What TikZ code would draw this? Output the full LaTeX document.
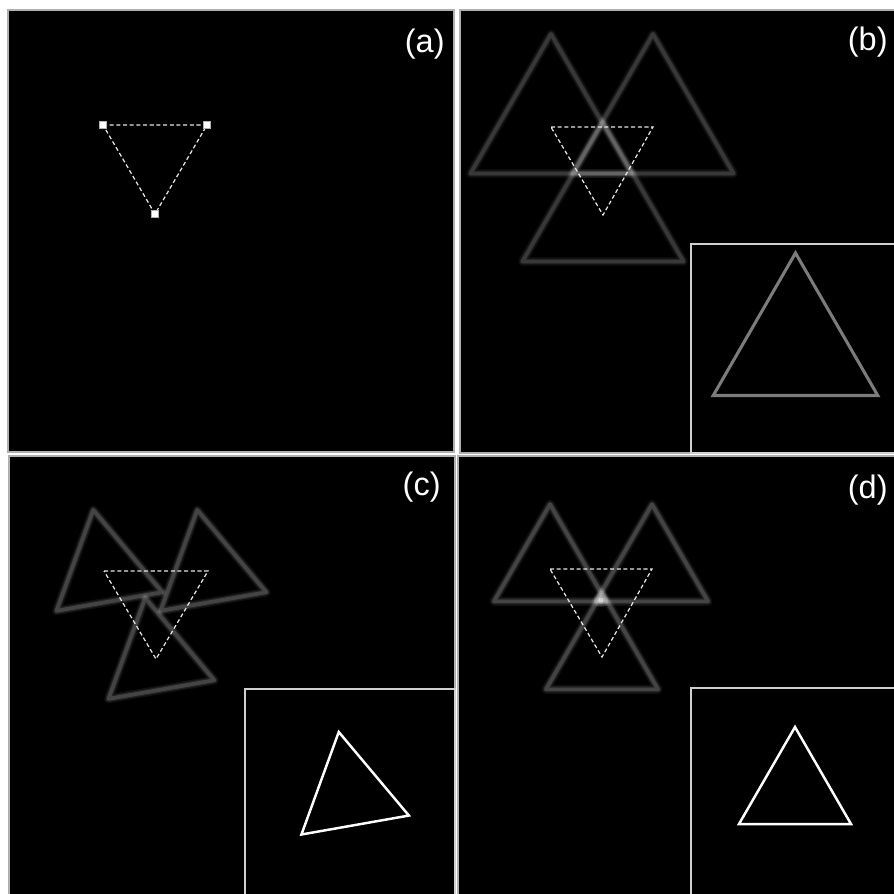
\documentclass[tikz,border=0pt]{standalone}
\usepackage{fontspec}
\setsansfont{Liberation Sans}
\usepackage{xcolor}
\usepackage{tikz}
\usetikzlibrary{calc}
\definecolor{cmarco}{HTML}{B0B0B0}
\definecolor{crecuadro}{HTML}{D0D0D0}
\definecolor{cguia}{HTML}{E6E6E6}
\definecolor{cinset}{HTML}{7C7C7C}
\tikzset{
  panel/.style={draw=cmarco, line width=0.8pt, fill=black},
  recuadro/.style={draw=crecuadro, line width=1.1pt, fill=black},
  guia/.style={draw=cguia, line width=0.7pt, dash pattern=on 2.3pt off 1.5pt},
  vertice/.style={rectangle, fill=white, draw=cmarco, line width=0.3pt,
    inner sep=0pt, minimum size=4pt},
  nitido/.style={line width=1.4pt, line join=miter},
  etiqueta/.style={text=white, inner sep=0pt, anchor=north east,
    font=\sffamily\fontsize{18.5}{22}\selectfont},
}
% triangulo difuso: centro, radio, giro del vertice, intensidad
\newcommand{\trianguloborroso}[4]{%
  \foreach \ancho/\opa in {5pt/0.06, 3.4pt/0.09, 2.1pt/0.15}
    \draw[white, opacity=\opa*#4, line width=\ancho, line join=round]
      ($(#1)+(#3:#2)$) -- ($(#1)+(#3+120:#2)$) -- ($(#1)+(#3+240:#2)$) -- cycle;
}

\begin{document}
\begin{tikzpicture}[x=0.02cm, y=-0.02cm]
  \fill[white] (0,0) rectangle (894,894);
  \useasboundingbox (0,0) rectangle (894,894);
  % paneles
  \draw[panel] (8,10) rectangle (454,452);
  \draw[panel] (460,10) rectangle (896,453);
  \draw[panel] (9,456) rectangle (455,896);
  \draw[panel] (458,456) rectangle (896,896);

  % (a)
  \coordinate (a1) at (103,125);
  \coordinate (a2) at (207,125);
  \coordinate (a3) at (155,214);
  \draw[guia] (a1) -- (a2) -- (a3) -- cycle;
  \foreach \v in {a1,a2,a3}
    \node[vertice] (m\v) at (\v) {};
  \node[etiqueta] (eta) at (445,29) {(a)};

  % (b)
  \coordinate (b1) at (551,127);
  \coordinate (b2) at (653,127);
  \coordinate (b3) at (603,215);
  \foreach \c in {b1,b2,b3}
    \trianguloborroso{\c}{93}{-90}{0.8};
  \draw[guia] (b1) -- (b2) -- (b3) -- cycle;
  \node[etiqueta] (etb) at (888,27) {(b)};
  \draw[recuadro] (691,244) rectangle (896,453);
  \coordinate (bi) at (795.5,348);
  \draw[nitido, cinset, line width=1.75pt] ($(bi)+(-90:95)$) -- ($(bi)+(30:95)$) -- ($(bi)+(150:95)$) -- cycle;

  % (c)
  \coordinate (c1) at (104,571);
  \coordinate (c2) at (208,571);
  \coordinate (c3) at (156,659);
  \foreach \c in {c1,c2,c3}
    \trianguloborroso{\c}{62}{-100}{1};
  \draw[guia] (c1) -- (c2) -- (c3) -- cycle;
  \node[etiqueta] (etc) at (441,472) {(c)};
  \draw[recuadro] (245,689) rectangle (455,896);
  \coordinate (ci) at (349.7,794);
  \draw[nitido, white] ($(ci)+(-100:63)$) -- ($(ci)+(20:63)$) -- ($(ci)+(140:63)$) -- cycle;

  % (d)
  \coordinate (d1) at (550,569);
  \coordinate (d2) at (652,569);
  \coordinate (d3) at (602,657);
  \foreach \c in {d1,d2,d3}
    \trianguloborroso{\c}{64.7}{-90}{1};
  \coordinate (dc) at (601,600);
  \foreach \r/\opa in {7/0.12, 4.5/0.25, 2.5/0.5}
    \fill[white, opacity=\opa] (dc) circle (\r);
  \draw[guia] (d1) -- (d2) -- (d3) -- cycle;
  \node[etiqueta] (etd) at (888,475) {(d)};
  \draw[recuadro] (691,688) rectangle (896,896);
  \coordinate (di) at (795,791.7);
  \draw[nitido, white] ($(di)+(-90:64.7)$) -- ($(di)+(30:64.7)$) -- ($(di)+(150:64.7)$) -- cycle;
\end{tikzpicture}
\end{document}
